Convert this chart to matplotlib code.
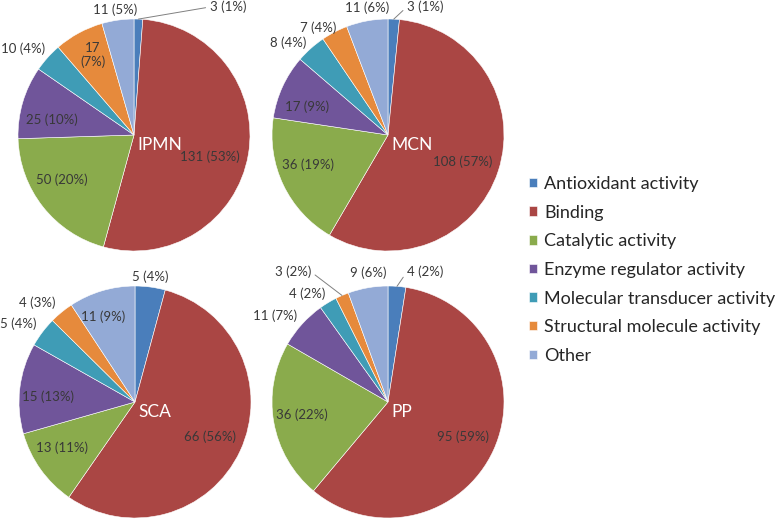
import matplotlib
matplotlib.use("Agg")
import matplotlib.pyplot as plt
import numpy as np

plt.rcParams['font.family'] = ['Lato', 'DejaVu Sans']

categories = ["Antioxidant activity", "Binding", "Catalytic activity",
              "Enzyme regulator activity", "Molecular transducer activity",
              "Structural molecule activity", "Other"]
pie_names = ["IPMN", "MCN", "SCA", "PP"]
ipmn_counts = [3, 131, 50, 25, 10, 17, 11]
ipmn_pcts = [1, 53, 20, 10, 4, 7, 5]
mcn_counts = [3, 108, 36, 17, 8, 7, 11]
mcn_pcts = [1, 57, 19, 9, 4, 4, 6]
sca_counts = [5, 66, 13, 15, 5, 4, 11]
sca_pcts = [4, 56, 11, 13, 4, 3, 9]
pp_counts = [4, 95, 36, 11, 4, 3, 9]
pp_pcts = [2, 59, 22, 7, 2, 2, 6]

colors = ['#4A7EBB', '#AA4644', '#8AAB4C', '#70559A', '#3F9CB6', '#E68A3C', '#93AAD6']

W, H = 778, 519
R = 116
# pie centres (pixel coordinates, y from top)
centers = [(134, 135), (388, 135), (135, 402), (388, 402)]
# label offsets from centre in pixels (dx, dy upward)
label_offsets = [
    [(94, 128), (76, -22), (-72, -45), (-82, 15), (-111, 86), (-41, 80), (-19, 125)],
    [(37, 128), (75, -27), (-80, -30), (-81, 28), (-100, 92), (-70, 107), (-21, 127)],
    [(15, 125), (75, -35), (-73, -46), (-87, 5), (-117, 78), (-98, 99), (-32, 85)],
    [(37, 130), (75, -35), (-86, -13), (-113, 86), (-81, 108), (-95, 130), (-20, 129)],
]
# labels with leader lines: (pie index, slice index) -> relpos on text box
leaders = {(0, 0): (0.0, 0.5), (1, 0): (0.0, 0.5), (3, 0): (0.0, 0.5), (3, 5): (1.0, 0.5)}
two_line = {(0, 5)}

all_counts = [ipmn_counts, mcn_counts, sca_counts, pp_counts]
all_pcts = [ipmn_pcts, mcn_pcts, sca_pcts, pp_pcts]

fig = plt.figure(figsize=(W / 100, H / 100), dpi=100)
ax = fig.add_axes([0, 0, 1, 1])

LBL = '#383838'
handles = None
for p, (counts, pcts) in enumerate(zip(all_counts, all_pcts)):
    cx, cy = centers[p]
    cy = H - cy
    wedges, _ = ax.pie(counts, colors=colors, startangle=90, counterclock=False,
                       center=(cx, cy), radius=R,
                       wedgeprops=dict(edgecolor='white', linewidth=0.4))
    if handles is None:
        handles = wedges
    total = float(sum(counts))
    cum = np.cumsum([0] + counts) / total
    for i, (v, pc) in enumerate(zip(counts, pcts)):
        dx, dy = label_offsets[p][i]
        txt = f"{v}\n({pc}%)" if (p, i) in two_line else f"{v} ({pc}%)"
        tx, ty = cx + dx, cy + dy
        if (p, i) in leaders:
            mid = (cum[i] + cum[i + 1]) / 2
            ang = np.deg2rad(90 - 360 * mid)
            ex, ey = cx + R * np.cos(ang), cy + R * np.sin(ang)
            ax.annotate(txt, xy=(ex, ey), xytext=(tx, ty), ha='center', va='center',
                        fontsize=9.5, color=LBL,
                        arrowprops=dict(arrowstyle='-', color='#808080', lw=0.7,
                                        relpos=leaders[(p, i)], shrinkA=1, shrinkB=0))
        else:
            ax.text(tx, ty, txt, ha='center', va='center', fontsize=9.5,
                    color=LBL, linespacing=1.1)
    ax.text(cx + 3, cy - 10, pie_names[p], ha='left', va='center', fontsize=12.5,
            color='white')

ax.set_xlim(0, W)
ax.set_ylim(0, H)
ax.set_aspect('equal')
ax.axis('off')

leg = fig.legend(handles, categories, loc='upper left',
                 bbox_to_anchor=(529 / W, 1 - 176 / H), frameon=False,
                 fontsize=13, handlelength=0.43, handleheight=0.43,
                 handletextpad=0.4, labelspacing=0.70, borderaxespad=0,
                 borderpad=0)
for t in leg.get_texts():
    t.set_color('#262626')

fig.savefig('out.png', dpi=100)
